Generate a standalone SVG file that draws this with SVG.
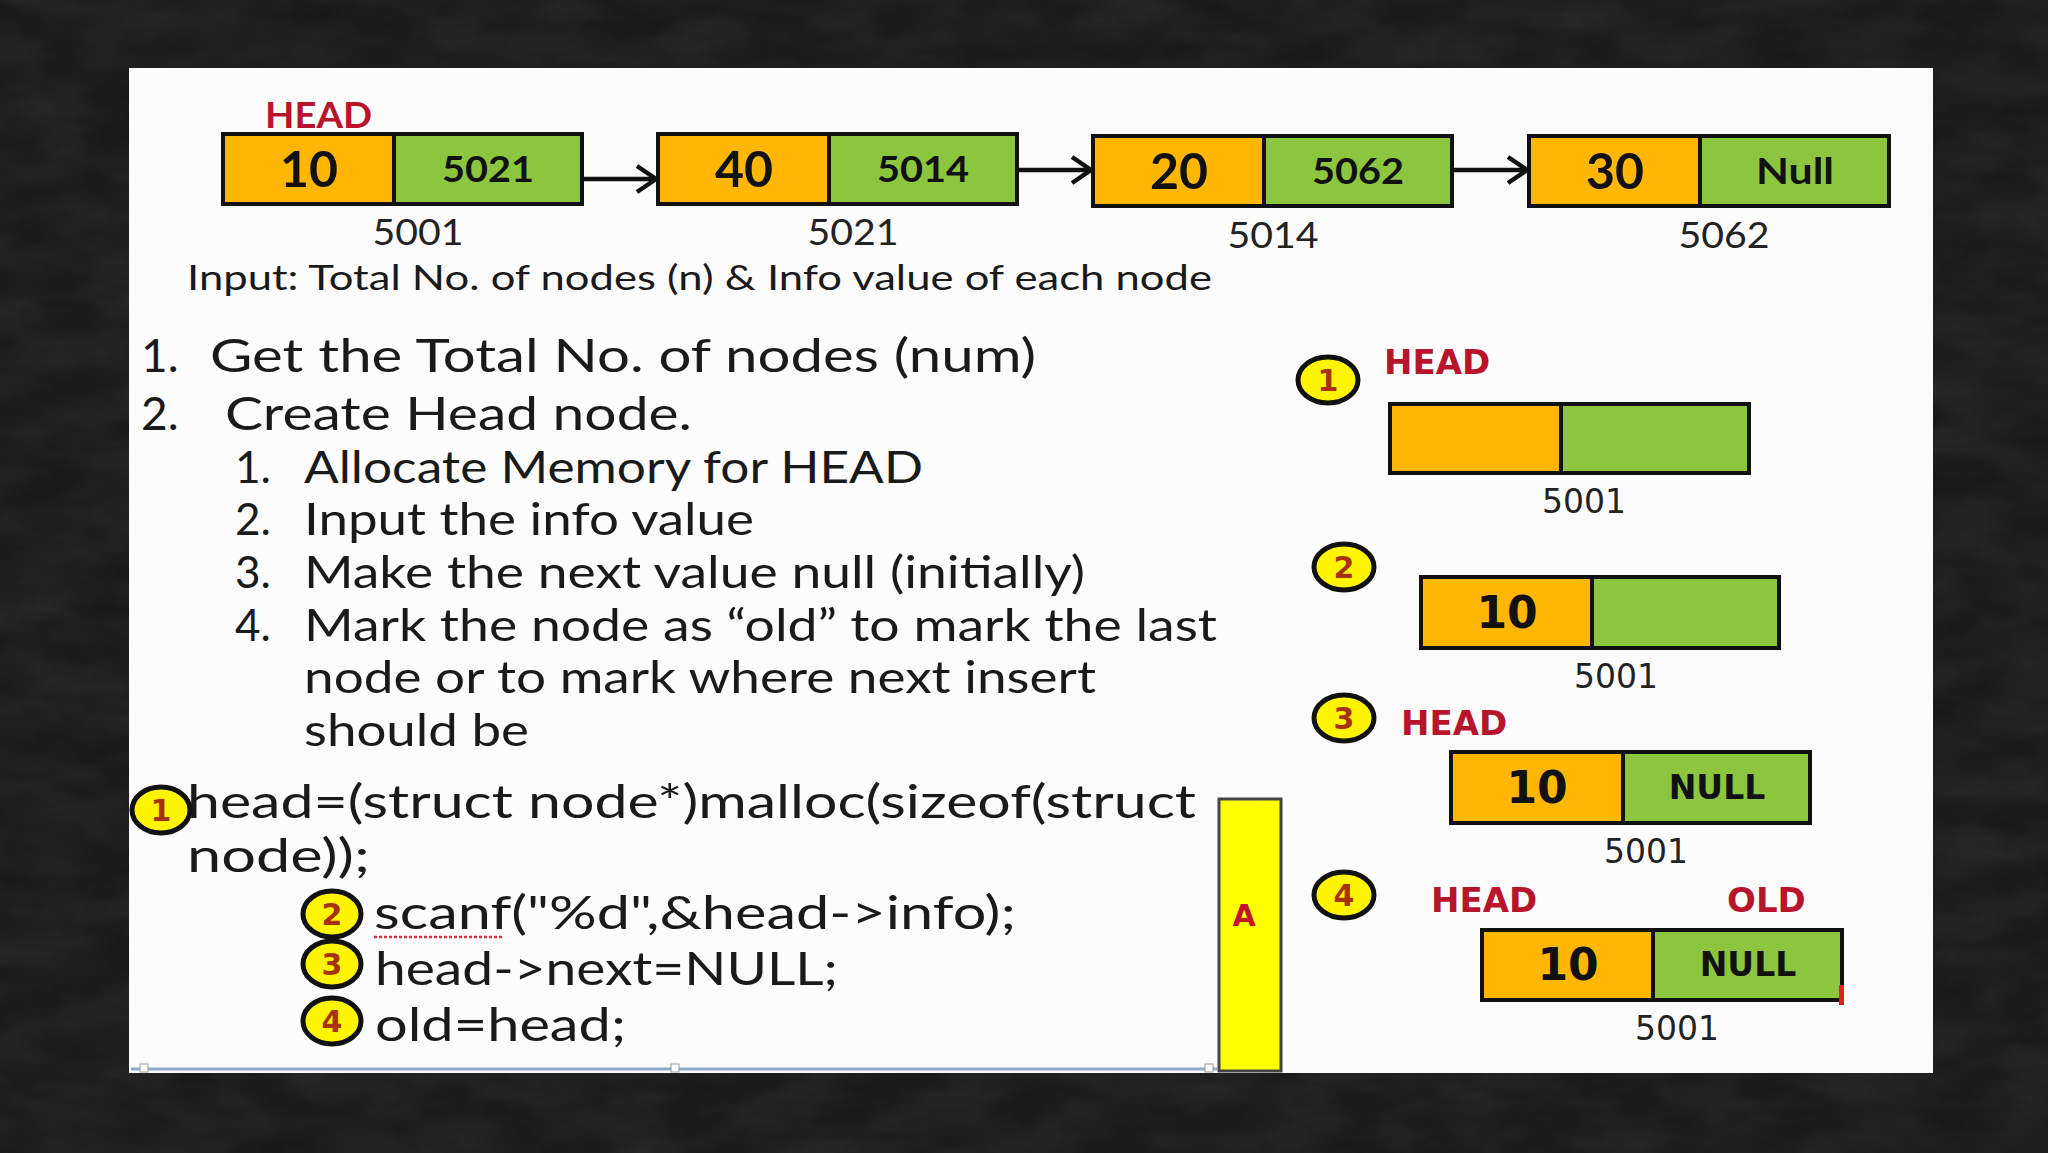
<svg xmlns="http://www.w3.org/2000/svg" width="2048" height="1153" viewBox="0 0 2048 1153">
<defs>
<filter id="grain" x="0" y="0" width="100%" height="100%">
<feTurbulence type="fractalNoise" baseFrequency="0.012 0.03" numOctaves="5" seed="7" result="n"/>
<feColorMatrix type="saturate" values="0"/>
</filter>
<marker id="arr" markerUnits="userSpaceOnUse" markerWidth="28" markerHeight="34" refX="23" refY="17" orient="auto">
<path d="M4,4 L23,17 L4,30" fill="none" stroke="#111" stroke-width="4.5" stroke-linejoin="miter"/>
</marker>
<style>
.info{fill:#FFB703;stroke:#111;stroke-width:4}
.next{fill:#8CC63F;stroke:#111;stroke-width:4}
.c{font-family:Lato,"Liberation Sans",sans-serif;fill:#1a1a1a}
.big{font-family:Lato,"Liberation Sans",sans-serif;font-weight:700;fill:#111;text-anchor:middle}
.v{font-family:"DejaVu Sans","Liberation Sans",sans-serif;font-weight:700;fill:#111;text-anchor:middle}
.addr{font-family:Lato,"Liberation Sans",sans-serif;fill:#222;text-anchor:middle;font-size:36px}
.addr2{font-family:"DejaVu Sans","Liberation Sans",sans-serif;fill:#222;text-anchor:middle;font-size:33px}
.red{font-family:"DejaVu Sans","Liberation Sans",sans-serif;font-weight:700;fill:#B8142C;font-size:34px}
.bub{fill:#FFF500;stroke:#111;stroke-width:5}
.bn{font-family:"DejaVu Sans","Liberation Sans",sans-serif;font-weight:700;fill:#A8320C;font-size:30px;text-anchor:middle}
.main{font-size:46px}
.sub{font-size:44px}
.code{font-size:46px}
</style>
</defs>
<rect width="2048" height="1153" fill="#161616"/>
<rect width="2048" height="1153" filter="url(#grain)" opacity="0.11"/>
<rect x="129" y="68" width="1804" height="1005" fill="#fcfcfc"/>

<g id="top-head-label"><text x="265" y="128" class="big" style="fill:#B8142C;text-anchor:start" font-size="36" textLength="107" lengthAdjust="spacingAndGlyphs">HEAD</text></g>

<g id="node-5001">
<rect x="223" y="134" width="171" height="70" class="info"/>
<rect x="394" y="134" width="188" height="70" class="next"/>
<text x="309" y="187" class="big" font-size="50">10</text>
<text x="488" y="182" class="big" font-size="36" textLength="92" lengthAdjust="spacingAndGlyphs">5021</text>
<text x="418" y="245" class="addr" textLength="91" lengthAdjust="spacingAndGlyphs">5001</text>
</g>
<g id="node-5021">
<rect x="658" y="134" width="171" height="70" class="info"/>
<rect x="829" y="134" width="188" height="70" class="next"/>
<text x="744" y="187" class="big" font-size="50">40</text>
<text x="923" y="182" class="big" font-size="36" textLength="92" lengthAdjust="spacingAndGlyphs">5014</text>
<text x="853" y="245" class="addr" textLength="91" lengthAdjust="spacingAndGlyphs">5021</text>
</g>
<g id="node-5014">
<rect x="1093" y="136" width="171" height="70" class="info"/>
<rect x="1264" y="136" width="188" height="70" class="next"/>
<text x="1179" y="189" class="big" font-size="50">20</text>
<text x="1358" y="184" class="big" font-size="36" textLength="92" lengthAdjust="spacingAndGlyphs">5062</text>
<text x="1273" y="248" class="addr" textLength="91" lengthAdjust="spacingAndGlyphs">5014</text>
</g>
<g id="node-5062">
<rect x="1529" y="136" width="171" height="70" class="info"/>
<rect x="1700" y="136" width="189" height="70" class="next"/>
<text x="1615" y="189" class="big" font-size="50">30</text>
<text x="1795" y="184" class="big" font-size="36" textLength="78" lengthAdjust="spacingAndGlyphs">Null</text>
<text x="1724" y="248" class="addr" textLength="91" lengthAdjust="spacingAndGlyphs">5062</text>
</g>

<g id="connectors" stroke="#111" stroke-width="4.5" fill="none">
<line x1="584" y1="179" x2="656" y2="179" marker-end="url(#arr)"/>
<line x1="1019" y1="170" x2="1091" y2="170" marker-end="url(#arr)"/>
<line x1="1454" y1="170" x2="1527" y2="170" marker-end="url(#arr)"/>
</g>

<g id="input-line"><text x="187" y="290" class="c" font-size="34" textLength="1025" lengthAdjust="spacingAndGlyphs">Input: Total No. of nodes (n) &amp; Info value of each node</text></g>

<g id="steps">
<text x="141" y="372" class="c main">1.</text>
<text x="210" y="372" class="c main" textLength="826" lengthAdjust="spacingAndGlyphs">Get the Total No. of nodes (num)</text>
<text x="141" y="430" class="c main">2.</text>
<text x="225" y="430" class="c main" textLength="467" lengthAdjust="spacingAndGlyphs">Create Head node.</text>
<text x="235" y="483" class="c sub">1.</text>
<text x="304" y="483" class="c sub" textLength="619" lengthAdjust="spacingAndGlyphs">Allocate Memory for HEAD</text>
<text x="235" y="535" class="c sub">2.</text>
<text x="304" y="535" class="c sub" textLength="450" lengthAdjust="spacingAndGlyphs">Input the info value</text>
<text x="235" y="588" class="c sub">3.</text>
<text x="304" y="588" class="c sub" textLength="781" lengthAdjust="spacingAndGlyphs">Make the next value null (initially)</text>
<text x="235" y="641" class="c sub">4.</text>
<text x="304" y="641" class="c sub" textLength="913" lengthAdjust="spacingAndGlyphs">Mark the node as “old” to mark the last</text>
<text x="304" y="693" class="c sub" textLength="792" lengthAdjust="spacingAndGlyphs">node or to mark where next insert</text>
<text x="304" y="746" class="c sub" textLength="225" lengthAdjust="spacingAndGlyphs">should be</text>
</g>

<g id="code">
<text x="187" y="818" class="c code" textLength="1009" lengthAdjust="spacingAndGlyphs">head=(struct node*)malloc(sizeof(struct</text>
<text x="187" y="872" class="c code" textLength="183" lengthAdjust="spacingAndGlyphs">node));</text>
<text x="374" y="929" class="c code" textLength="642" lengthAdjust="spacingAndGlyphs">scanf("%d",&amp;head-&gt;info);</text>
<line x1="374" y1="937" x2="504" y2="937" stroke="#E0303A" stroke-width="2.5" stroke-dasharray="3 2"/>
<text x="375" y="985" class="c code" textLength="463" lengthAdjust="spacingAndGlyphs">head-&gt;next=NULL;</text>
<text x="375" y="1041" class="c code" textLength="251" lengthAdjust="spacingAndGlyphs">old=head;</text>
</g>

<g id="code-bubble-1"><ellipse cx="161" cy="810" rx="29" ry="23" class="bub"/><text x="161" y="821" class="bn">1</text></g>
<g id="code-bubble-2"><ellipse cx="332" cy="914" rx="29" ry="23" class="bub"/><text x="332" y="925" class="bn">2</text></g>
<g id="code-bubble-3"><ellipse cx="332" cy="964" rx="29" ry="23" class="bub"/><text x="332" y="975" class="bn">3</text></g>
<g id="code-bubble-4"><ellipse cx="332" cy="1021" rx="29" ry="23" class="bub"/><text x="332" y="1032" class="bn">4</text></g>

<g id="bar-A">
<rect x="1219" y="799" width="62" height="272" fill="#FFFF00" stroke="#444" stroke-width="3"/>
<text x="1244" y="926" class="v" font-size="30" style="fill:#C0142A">A</text>
</g>

<g id="step1">
<ellipse cx="1328" cy="380" rx="30" ry="23" class="bub"/><text x="1328" y="391" class="bn">1</text>
<text x="1384" y="374" class="red">HEAD</text>
<rect x="1390" y="404" width="171" height="69" class="info"/>
<rect x="1561" y="404" width="188" height="69" class="next"/>
<text x="1584" y="513" class="addr2">5001</text>
</g>
<g id="step2">
<ellipse cx="1344" cy="567" rx="30" ry="23" class="bub"/><text x="1344" y="578" class="bn">2</text>
<rect x="1421" y="577" width="171" height="71" class="info"/>
<rect x="1592" y="577" width="187" height="71" class="next"/>
<text x="1507" y="628" class="v" font-size="44">10</text>
<text x="1616" y="688" class="addr2">5001</text>
</g>
<g id="step3">
<ellipse cx="1344" cy="718" rx="30" ry="23" class="bub"/><text x="1344" y="729" class="bn">3</text>
<text x="1401" y="735" class="red">HEAD</text>
<rect x="1451" y="752" width="172" height="71" class="info"/>
<rect x="1623" y="752" width="187" height="71" class="next"/>
<text x="1537" y="803" class="v" font-size="44">10</text>
<text x="1717" y="799" class="v" font-size="33">NULL</text>
<text x="1646" y="863" class="addr2">5001</text>
</g>
<g id="step4">
<ellipse cx="1344" cy="895" rx="30" ry="23" class="bub"/><text x="1344" y="906" class="bn">4</text>
<text x="1431" y="912" class="red">HEAD</text>
<text x="1727" y="912" class="red">OLD</text>
<rect x="1482" y="930" width="171" height="70" class="info"/>
<rect x="1653" y="930" width="189" height="70" class="next"/>
<text x="1568" y="980" class="v" font-size="44">10</text>
<text x="1748" y="976" class="v" font-size="33">NULL</text>
<rect x="1839" y="985" width="5" height="20" fill="#E02020"/>
<text x="1677" y="1040" class="addr2">5001</text>
</g>

<g id="selection-edge">
<line x1="131" y1="1069" x2="1217" y2="1069" stroke="#8FA8CC" stroke-width="3"/>
<rect x="140" y="1064" width="8" height="8" fill="#fff" stroke="#999" stroke-width="1"/>
<rect x="671" y="1064" width="8" height="8" fill="#fff" stroke="#999" stroke-width="1"/>
<rect x="1205" y="1064" width="8" height="8" fill="#fff" stroke="#999" stroke-width="1"/>
</g>
</svg>
